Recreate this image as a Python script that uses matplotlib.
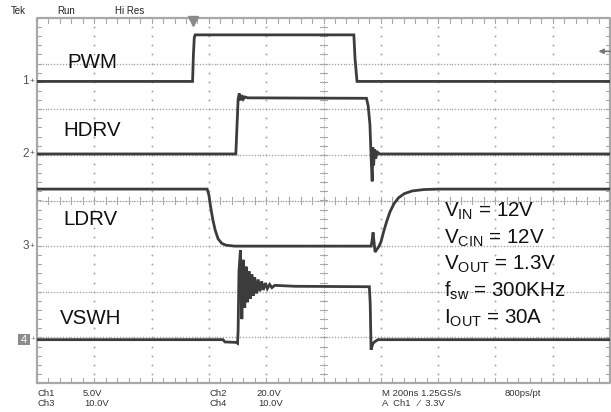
import numpy as np
import matplotlib.pyplot as plt

# fonts (Arial-like)
plt.rcParams['font.family'] = ['Liberation Sans', 'DejaVu Sans']
plt.rcParams['mathtext.fontset'] = 'custom'
plt.rcParams['mathtext.rm'] = 'Liberation Sans'
plt.rcParams['mathtext.it'] = 'Liberation Sans'

W, H = 611, 412

# scope settings
ns_per_div = 200
volts_per_div = {'PWM': 5.0, 'HDRV': 20.0, 'LDRV': 10.0, 'VSWH': 10.0}
ground_div = {'PWM': 2.61, 'HDRV': 1.02, 'LDRV': -1.0, 'VSWH': -3.05}
trig_t = 546
trig_level = 3.3

# traces, time in ns from left edge of screen, value in volts
pwm_t = [0, 543, 546, 549, 552, 1106, 1110, 1117, 2000]
pwm_v = [0, 0, 3.0, 4.8, 5.1, 5.1, 2.5, 0, 0]

hdrv_t = [0, 694, 698, 702, 706, 710, 715, 720, 726, 735, 1150, 1156, 1162, 1167, 1170,
          1172, 1175, 1178, 1182, 1188, 1196, 2000]
hdrv_v = [0, 0, 12, 24, 26.5, 23.5, 25.8, 24, 25, 24.6, 24.4, 21, 13, -4, -12,
          3, -5, 2, -2, 0.8, 0, 0]

ldrv_t = [0, 594, 600, 606, 614, 622, 632, 645, 660, 690, 1166, 1169, 1173, 1177, 1180,
          1194, 1201, 1210, 1220, 1232, 1246, 1262, 1282, 1310, 1350, 1400, 2000]
ldrv_v = [12.5, 12.5, 11.2, 8.6, 5.7, 3.5, 1.6, 0.6, 0.2, 0, 0, 1.0, 3.0, 0.5, -1.3,
          0, 1.0, 3.2, 5.3, 7.5, 9.3, 10.6, 11.5, 12.1, 12.4, 12.5, 12.5]

vswh_t = [0, 649, 656, 695, 700, 702, 705, 710, 715, 720, 725, 730, 735, 740, 745, 750,
          755, 760, 766, 772, 778, 784, 790, 797, 804, 812, 820, 830, 900,
          1160, 1163, 1166, 1169, 1173, 1180, 1190, 2000]
vswh_v = [0, 0, -0.5, -0.6, -0.8, 2.0, 15.0, 19.6, 4.5, 17.5, 7.0, 16.0, 8.2, 15.0, 9.0, 14.3,
          9.6, 13.7, 10.1, 13.2, 10.6, 12.8, 10.9, 12.4, 11.2, 12.1, 11.4, 11.9, 11.7,
          11.6, 8.0, -2.2, -1.5, -0.8, -0.4, 0, 0]

traces = {'PWM': (pwm_t, pwm_v), 'HDRV': (hdrv_t, hdrv_v),
          'LDRV': (ldrv_t, ldrv_v), 'VSWH': (vswh_t, vswh_v)}

# label positions (pixels: left, baseline)
label_pos = {'PWM': (67, 68), 'HDRV': (63, 136.5), 'LDRV': (63, 225), 'VSWH': (60, 324)}

cond_lines = [r'V$_{\mathrm{IN}}$ = 12V', r'V$_{\mathrm{CIN}}$ = 12V', r'V$_{\mathrm{OUT}}$ = 1.3V',
              r'f$_{\mathrm{sw}}$ = 300KHz', r'I$_{\mathrm{OUT}}$ = 30A']

fig = plt.figure(figsize=(W / 100, H / 100), dpi=100)
fig.patch.set_facecolor('white')

# screen area in pixels
x0, x1, y0, y1 = 37, 610, 18, 383
ax = fig.add_axes([x0 / W, 1 - y1 / H, (x1 - x0) / W, (y1 - y0) / H])
ax.set_xlim(0, 10 * ns_per_div)
ax.set_ylim(-4, 4)
ax.axis('off')

# graticule
gc = '#a8a8a8'
xs_minor = np.arange(0, 10.001, 0.2) * ns_per_div
ys_minor = np.arange(-4, 4.001, 0.2)
xs_fine = np.arange(0, 10.001, 0.05) * ns_per_div
for i in range(1, 10):
    ax.scatter(np.full(len(ys_minor), i * ns_per_div), ys_minor, s=2.0, c=gc, lw=0, zorder=1)
for j in range(-3, 4):
    ax.scatter(xs_fine, np.full(len(xs_fine), j), s=1.2, c=gc, lw=0, zorder=1)
# center cross ticks
for x in xs_minor:
    ax.plot([x, x], [-0.07, 0.07], color=gc, lw=0.8, zorder=1)
for y in ys_minor:
    ax.plot([1000 - 12, 1000 + 12], [y, y], color=gc, lw=0.8, zorder=1)
ax.plot([1000, 1000], [-4, 4], color=gc, lw=0.7, ls=(0, (1, 1.5)), zorder=1)
ax.plot([0, 2000], [0, 0], color=gc, lw=0.7, ls=(0, (1, 1.5)), zorder=1)
# border ticks
for x in xs_minor:
    ax.plot([x, x], [4, 3.88], color=gc, lw=0.8, zorder=1)
    ax.plot([x, x], [-4, -3.88], color=gc, lw=0.8, zorder=1)
for y in ys_minor:
    ax.plot([0, 14], [y, y], color=gc, lw=0.8, zorder=1)
    ax.plot([2000, 1986], [y, y], color=gc, lw=0.8, zorder=1)
ax.plot([0, 0, 2000, 2000, 0], [-4, 4, 4, -4, -4], color='#a8a8a8', lw=1.6, zorder=2,
        clip_on=False)

# waveforms
for name, (t, v) in traces.items():
    y = ground_div[name] + np.array(v) / volts_per_div[name]
    ax.plot(t, y, color='#3c3c3c', lw=2.0, zorder=3, solid_joinstyle='miter')

# trigger position marker and level arrow
ax.plot([trig_t], [3.93], marker='v', ms=7, color='#8a8a8a', mec='#8a8a8a', clip_on=False, zorder=4)
lvl = ground_div['PWM'] + trig_level / volts_per_div['PWM']
ax.annotate('', xy=(1950, lvl), xytext=(2010, lvl),
            arrowprops=dict(arrowstyle='-|>', color='#777777', lw=1.2, mutation_scale=7),
            annotation_clip=False)

# pixel helper
def fx(px):
    return px / W

def fy(py):
    return 1 - py / H

# channel ground markers
for n, name in enumerate(['PWM', 'HDRV', 'LDRV'], start=1):
    py = 200.5 - ground_div[name] * 45.6
    fig.text(fx(29), fy(py), str(n), ha='right', va='center', fontsize=8.5, color='#555555')
    fig.text(fx(29.5), fy(py), '+', ha='left', va='center', fontsize=6, color='#555555')
py4 = 200.5 - ground_div['VSWH'] * 45.6
fig.patches.append(plt.Rectangle((fx(18), fy(py4 + 5.5)), 12 / W, 11 / H, transform=fig.transFigure,
                                 facecolor='#8c8c8c', edgecolor='none'))
fig.text(fx(24), fy(py4), '4', ha='center', va='center', fontsize=8, color='white')
fig.text(fx(30.5), fy(py4), '+', ha='left', va='center', fontsize=6, color='#8c8c8c')

# signal labels
for name, (px, py) in label_pos.items():
    fig.text(fx(px), fy(py), name, ha='left', va='baseline', fontsize=14.8, color='#111111')

# operating conditions
for k, s in enumerate(cond_lines):
    fig.text(fx(444), fy(216.5 + 26.8 * k), s, ha='left', va='baseline', fontsize=14.8,
             color='#111111')

# header
hdr_c = '#222222'
fig.text(fx(11), fy(11), 'Tek', fontsize=7, va='center', color=hdr_c)
fig.text(fx(57), fy(11), 'Run', fontsize=7, va='center', color=hdr_c)
fig.text(fx(115), fy(11), 'Hi Res', fontsize=7, va='center', color=hdr_c)

# footer readouts
ft_c = '#333333'
footer = [(37, 393, 'Ch1'), (83, 393, '5.0V'), (37, 404, 'Ch3'), (84, 404, '10.0V'),
          (210, 393, 'Ch2'), (256, 393, '20.0V'), (210, 404, 'Ch4'), (258, 404, '10.0V'),
          (382, 393, 'M 200ns 1.25GS/s'), (505, 393, '800ps/pt'),
          (382, 404, 'A  Ch1   \u2215  3.3V')]
for px, py, s in footer:
    fig.text(fx(px), fy(py), s, fontsize=6.8, va='center', ha='left', color=ft_c)

fig.savefig('out.png', dpi=100)
